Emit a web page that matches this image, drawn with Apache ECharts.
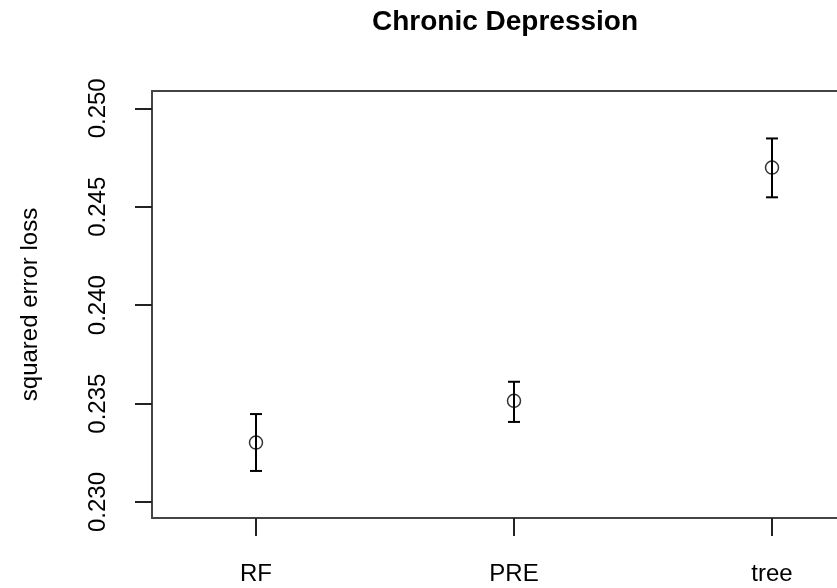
<!DOCTYPE html>
<html>
<head>
<meta charset="utf-8">
<script src="https://cdn.jsdelivr.net/npm/echarts@6/dist/echarts.min.js"></script>
<style>
  html, body { margin: 0; padding: 0; background: #fff; }
  #chart { width: 837px; height: 588px; }
</style>
</head>
<body>
<div id="chart"></div>
<script>
// data
const categories = ['RF', 'PRE', 'tree'];
const means = [0.23302, 0.23514, 0.24699];
const lowers = [0.23158, 0.23407, 0.24548];
const uppers = [0.23447, 0.23611, 0.24847];
const yTicks = [0.230, 0.235, 0.240, 0.245, 0.250];

const FONT = '"Liberation Sans", Arial, sans-serif';
const catPos = categories.map((c, i) => i + 1);
const frame = { show: true, onZero: false, lineStyle: { color: '#444', width: 2 } };

const chart = echarts.init(document.getElementById('chart'));

const option = {
  animation: false,
  backgroundColor: '#fff',
  title: {
    text: 'Chronic Depression',
    left: 500,
    top: 3,
    textAlign: 'center',
    textStyle: { fontFamily: FONT, fontSize: 28, fontWeight: 'bold', color: '#000' }
  },
  grid: {
    left: 152,
    right: 0,
    top: 91,
    bottom: 70
  },
  xAxis: [
    {
      type: 'value',
      position: 'bottom',
      min: 0.5969,
      max: 3.2519,
      axisLine: frame,
      splitLine: { show: false },
      axisTick: {
        show: true,
        customValues: catPos,
        length: 18,
        lineStyle: { color: '#222', width: 2 }
      },
      axisLabel: {
        customValues: catPos,
        margin: 44,
        fontFamily: FONT,
        fontSize: 24,
        color: '#000',
        formatter: v => categories[Math.round(v) - 1] || ''
      }
    },
    {
      // top edge of the box
      type: 'value',
      position: 'top',
      min: 0.5969,
      max: 3.2519,
      axisLine: frame,
      splitLine: { show: false },
      axisTick: { show: false },
      axisLabel: { show: false }
    }
  ],
  yAxis: {
    type: 'value',
    min: 0.22919,
    max: 0.25088,
    name: 'squared error loss',
    nameLocation: 'middle',
    nameGap: 110,
    nameTextStyle: { fontFamily: FONT, fontSize: 24, color: '#000' },
    axisLine: frame,
    splitLine: { show: false },
    axisTick: {
      show: true,
      customValues: yTicks,
      length: 17,
      lineStyle: { color: '#222', width: 2 }
    },
    axisLabel: {
      customValues: yTicks,
      rotate: 90,
      margin: 42,
      fontFamily: FONT,
      fontSize: 24,
      color: '#000',
      formatter: v => v.toFixed(3)
    }
  },
  series: [
    {
      // error bars
      type: 'custom',
      data: catPos.map((x, i) => [x, lowers[i], uppers[i]]),
      renderItem: function (params, api) {
        const x = api.value(0);
        const lo = api.coord([x, api.value(1)]);
        const hi = api.coord([x, api.value(2)]);
        const half = 6;
        const style = { stroke: '#000', lineWidth: 2 };
        return {
          type: 'group',
          children: [
            { type: 'line', shape: { x1: lo[0], y1: lo[1], x2: hi[0], y2: hi[1] }, style: style },
            { type: 'line', shape: { x1: lo[0] - half, y1: lo[1], x2: lo[0] + half, y2: lo[1] }, style: style },
            { type: 'line', shape: { x1: hi[0] - half, y1: hi[1], x2: hi[0] + half, y2: hi[1] }, style: style }
          ]
        };
      },
      z: 2
    },
    {
      type: 'scatter',
      data: catPos.map((x, i) => [x, means[i]]),
      symbol: 'circle',
      symbolSize: 13,
      itemStyle: { color: 'rgba(0,0,0,0)', borderColor: '#000', borderWidth: 1.5 },
      z: 3
    }
  ]
};

chart.setOption(option);
</script>
</body>
</html>
